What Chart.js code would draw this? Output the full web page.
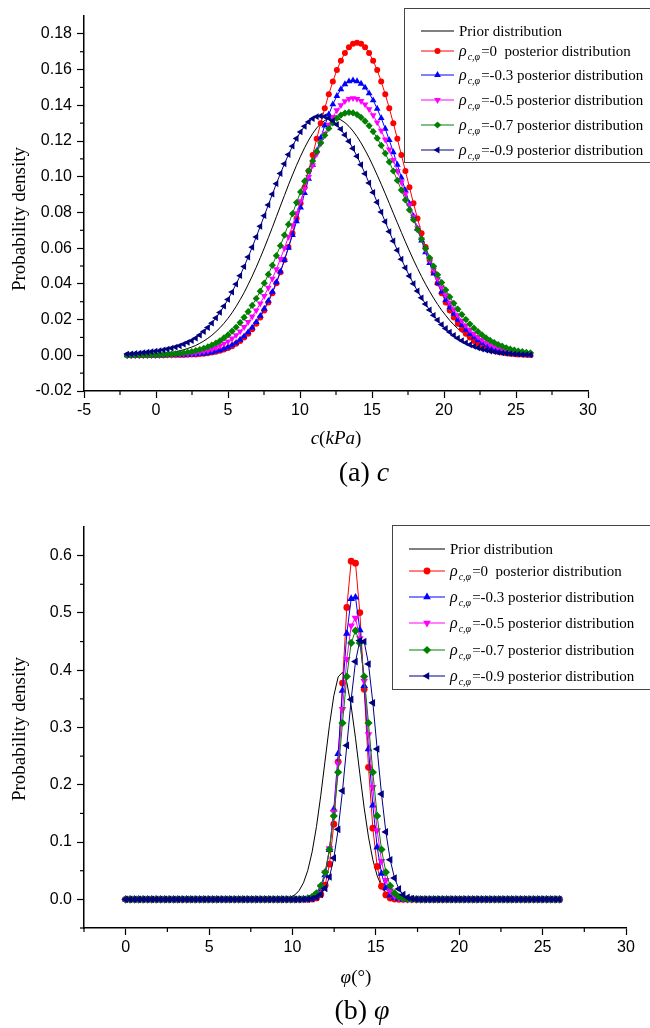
<!DOCTYPE html>
<html lang="en">
<head>
<meta charset="utf-8">
<title>Prior and posterior distributions of c and φ</title>
<script src="https://cdn.jsdelivr.net/npm/chart.js"></script>
<style>
  html, body { margin: 0; padding: 0; background: #fff; }
  .page { position: relative; width: 650px; height: 1028px; overflow: hidden; color: #000;
          font-family: "Liberation Serif", "Times New Roman", Times, serif; }
  .page canvas { position: absolute; left: 0; }
  #cChart { top: 0; }
  #phiChart { top: 500px; }
  .lbl { position: absolute; white-space: nowrap; line-height: 1; transform: translate(-50%, -50%); }
  .ytitle { font-size: 19px; transform: translate(-50%, -50%) rotate(-90deg); }
  .xtitle { font-size: 19px; }
  .caption { font-size: 28px; }
</style>
</head>
<body>
<div class="page">
  <canvas id="cChart" width="650" height="430"></canvas>
  <canvas id="phiChart" width="650" height="470"></canvas>

  <div class="lbl ytitle" style="left:18px; top:219px">Probability density</div>
  <div class="lbl xtitle" style="left:336px; top:437px"><i>c</i>(<i>kPa</i>)</div>
  <div class="lbl caption" style="left:364px; top:472px">(a) <i>c</i></div>

  <div class="lbl ytitle" style="left:18px; top:729px">Probability density</div>
  <div class="lbl xtitle" style="left:356px; top:976px"><i>φ</i>(°)</div>
  <div class="lbl caption" style="left:362px; top:1010px">(b) <i>φ</i></div>
</div>

<script>
// ---- (a) cohesion c (kPa) ----
const cValues = [
  -2, -1.72, -1.44, -1.16, -0.88, -0.6, -0.32, -0.04, 0.24, 0.52,
  0.8, 1.08, 1.36, 1.64, 1.92, 2.2, 2.48, 2.76, 3.04, 3.32,
  3.6, 3.88, 4.16, 4.44, 4.72, 5, 5.28, 5.56, 5.84, 6.12,
  6.4, 6.68, 6.96, 7.24, 7.52, 7.8, 8.08, 8.36, 8.64, 8.92,
  9.2, 9.48, 9.76, 10.04, 10.32, 10.6, 10.88, 11.16, 11.44, 11.72,
  12, 12.28, 12.56, 12.84, 13.12, 13.4, 13.68, 13.96, 14.24, 14.52,
  14.8, 15.08, 15.36, 15.64, 15.92, 16.2, 16.48, 16.76, 17.04, 17.32,
  17.6, 17.88, 18.16, 18.44, 18.72, 19, 19.28, 19.56, 19.84, 20.12,
  20.4, 20.68, 20.96, 21.24, 21.52, 21.8, 22.08, 22.36, 22.64, 22.92,
  23.2, 23.48, 23.76, 24.04, 24.32, 24.6, 24.88, 25.16, 25.44, 25.72,
  26
];
const cPrior = [
  0.0001, 0.0001, 0.0002, 0.0002, 0.0003, 0.0004, 0.0005, 0.0006, 0.0008, 0.0010,
  0.0013, 0.0016, 0.0020, 0.0025, 0.0031, 0.0038, 0.0046, 0.0055, 0.0067, 0.0080,
  0.0095, 0.0112, 0.0132, 0.0154, 0.0179, 0.0207, 0.0238, 0.0273, 0.0311, 0.0351,
  0.0396, 0.0443, 0.0493, 0.0546, 0.0601, 0.0658, 0.0716, 0.0776, 0.0836, 0.0895,
  0.0954, 0.1010, 0.1064, 0.1115, 0.1162, 0.1205, 0.1242, 0.1273, 0.1297, 0.1315,
  0.1326, 0.1330, 0.1327, 0.1318, 0.1303, 0.1282, 0.1256, 0.1225, 0.1189, 0.1149,
  0.1106, 0.1059, 0.1009, 0.0958, 0.0905, 0.0851, 0.0796, 0.0742, 0.0688, 0.0635,
  0.0584, 0.0534, 0.0487, 0.0441, 0.0398, 0.0358, 0.0320, 0.0285, 0.0252, 0.0223,
  0.0195, 0.0171, 0.0149, 0.0129, 0.0111, 0.0095, 0.0081, 0.0069, 0.0059, 0.0049,
  0.0041, 0.0035, 0.0029, 0.0024, 0.0020, 0.0016, 0.0013, 0.0011, 0.0009, 0.0007,
  0.0006
];
const cRho0 = [
  0, 0, 0, 0, 0, 0, 0, 0, 0, 0,
  0.0001, 0.0001, 0.0001, 0.0001, 0.0002, 0.0003, 0.0004, 0.0005, 0.0007, 0.0009,
  0.0012, 0.0015, 0.0020, 0.0025, 0.0032, 0.0041, 0.0051, 0.0064, 0.0080, 0.0099,
  0.0121, 0.0146, 0.0177, 0.0211, 0.0251, 0.0296, 0.0347, 0.0403, 0.0465, 0.0533,
  0.0606, 0.0684, 0.0766, 0.0852, 0.0941, 0.1032, 0.1122, 0.1212, 0.1300, 0.1384,
  0.1462, 0.1533, 0.1597, 0.1650, 0.1693, 0.1725, 0.1744, 0.1750, 0.1744, 0.1725,
  0.1693, 0.1650, 0.1597, 0.1533, 0.1462, 0.1384, 0.1300, 0.1212, 0.1122, 0.1032,
  0.0941, 0.0852, 0.0766, 0.0684, 0.0606, 0.0533, 0.0465, 0.0403, 0.0347, 0.0296,
  0.0251, 0.0211, 0.0177, 0.0146, 0.0121, 0.0099, 0.0080, 0.0064, 0.0051, 0.0041,
  0.0032, 0.0025, 0.0020, 0.0015, 0.0012, 0.0009, 0.0007, 0.0005, 0.0004, 0.0003,
  0.0002
];
const cRho3 = [
  0, 0, 0, 0, 0, 0, 0, 0, 0, 0,
  0.0001, 0.0001, 0.0001, 0.0002, 0.0002, 0.0003, 0.0004, 0.0006, 0.0008, 0.0010,
  0.0013, 0.0017, 0.0022, 0.0028, 0.0036, 0.0045, 0.0057, 0.0070, 0.0087, 0.0106,
  0.0129, 0.0155, 0.0186, 0.0221, 0.0261, 0.0305, 0.0355, 0.0409, 0.0469, 0.0533,
  0.0602, 0.0674, 0.0750, 0.0828, 0.0908, 0.0988, 0.1067, 0.1144, 0.1218, 0.1287,
  0.1349, 0.1405, 0.1452, 0.1490, 0.1518, 0.1534, 0.1540, 0.1535, 0.1521, 0.1499,
  0.1467, 0.1428, 0.1381, 0.1328, 0.1269, 0.1205, 0.1137, 0.1067, 0.0995, 0.0923,
  0.0850, 0.0779, 0.0709, 0.0642, 0.0577, 0.0516, 0.0458, 0.0405, 0.0355, 0.0310,
  0.0269, 0.0232, 0.0199, 0.0169, 0.0143, 0.0120, 0.0101, 0.0084, 0.0069, 0.0057,
  0.0046, 0.0038, 0.0030, 0.0024, 0.0019, 0.0015, 0.0012, 0.0009, 0.0007, 0.0006,
  0.0004
];
const cRho5 = [
  0, 0, 0, 0, 0, 0.0001, 0.0001, 0.0001, 0.0001, 0.0002,
  0.0002, 0.0003, 0.0004, 0.0005, 0.0007, 0.0009, 0.0011, 0.0014, 0.0018, 0.0023,
  0.0028, 0.0035, 0.0043, 0.0053, 0.0065, 0.0078, 0.0094, 0.0113, 0.0134, 0.0158,
  0.0186, 0.0217, 0.0251, 0.0290, 0.0332, 0.0378, 0.0429, 0.0482, 0.0540, 0.0600,
  0.0663, 0.0728, 0.0795, 0.0863, 0.0931, 0.0998, 0.1064, 0.1127, 0.1186, 0.1241,
  0.1291, 0.1335, 0.1372, 0.1401, 0.1423, 0.1436, 0.1440, 0.1436, 0.1424, 0.1405,
  0.1378, 0.1344, 0.1304, 0.1258, 0.1208, 0.1152, 0.1094, 0.1032, 0.0969, 0.0905,
  0.0840, 0.0776, 0.0712, 0.0650, 0.0591, 0.0534, 0.0479, 0.0428, 0.0380, 0.0336,
  0.0295, 0.0258, 0.0224, 0.0194, 0.0167, 0.0143, 0.0121, 0.0102, 0.0086, 0.0072,
  0.0060, 0.0050, 0.0041, 0.0033, 0.0027, 0.0022, 0.0018, 0.0014, 0.0011, 0.0009,
  0.0007
];
const cRho7 = [
  0, 0, 0.0001, 0.0001, 0.0001, 0.0001, 0.0002, 0.0002, 0.0003, 0.0004,
  0.0005, 0.0007, 0.0008, 0.0011, 0.0013, 0.0017, 0.0021, 0.0026, 0.0032, 0.0039,
  0.0047, 0.0057, 0.0068, 0.0081, 0.0097, 0.0114, 0.0135, 0.0157, 0.0183, 0.0212,
  0.0244, 0.0279, 0.0318, 0.0359, 0.0404, 0.0453, 0.0504, 0.0558, 0.0614, 0.0673,
  0.0733, 0.0793, 0.0855, 0.0915, 0.0975, 0.1033, 0.1088, 0.1141, 0.1189, 0.1232,
  0.1270, 0.1301, 0.1327, 0.1345, 0.1356, 0.1360, 0.1357, 0.1348, 0.1332, 0.1311,
  0.1285, 0.1253, 0.1216, 0.1175, 0.1131, 0.1083, 0.1032, 0.0979, 0.0925, 0.0870,
  0.0814, 0.0759, 0.0704, 0.0650, 0.0597, 0.0546, 0.0498, 0.0451, 0.0407, 0.0366,
  0.0327, 0.0291, 0.0258, 0.0228, 0.0200, 0.0175, 0.0152, 0.0132, 0.0114, 0.0097,
  0.0083, 0.0071, 0.0060, 0.0051, 0.0042, 0.0035, 0.0029, 0.0024, 0.0020, 0.0016,
  0.0013
];
const cRho9 = [
  0.0007, 0.0008, 0.0010, 0.0012, 0.0015, 0.0017, 0.0020, 0.0023, 0.0026, 0.0030,
  0.0035, 0.0040, 0.0046, 0.0053, 0.0062, 0.0072, 0.0082, 0.0096, 0.0113, 0.0133,
  0.0155, 0.0180, 0.0209, 0.0240, 0.0275, 0.0313, 0.0354, 0.0398, 0.0446, 0.0497,
  0.0550, 0.0605, 0.0663, 0.0722, 0.0782, 0.0842, 0.0902, 0.0961, 0.1018, 0.1072,
  0.1124, 0.1171, 0.1214, 0.1251, 0.1282, 0.1307, 0.1325, 0.1336, 0.1340, 0.1337,
  0.1328, 0.1313, 0.1292, 0.1266, 0.1234, 0.1198, 0.1158, 0.1114, 0.1067, 0.1017,
  0.0965, 0.0912, 0.0857, 0.0802, 0.0748, 0.0693, 0.0640, 0.0588, 0.0538, 0.0490,
  0.0444, 0.0401, 0.0360, 0.0322, 0.0287, 0.0254, 0.0224, 0.0197, 0.0172, 0.0150,
  0.0130, 0.0112, 0.0096, 0.0082, 0.0070, 0.0059, 0.0050, 0.0042, 0.0035, 0.0029,
  0.0024, 0.0020, 0.0016, 0.0013, 0.0011, 0.0009, 0.0007, 0.0006, 0.0004, 0.0004,
  0.0003
];
const cXTicks = [-5, 0, 5, 10, 15, 20, 25, 30];
const cYTicks = [-0.02, 0, 0.02, 0.04, 0.06, 0.08, 0.10, 0.12, 0.14, 0.16, 0.18];

// ---- (b) friction angle phi (deg) ----
const phiValues = [
  0, 0.26, 0.52, 0.78, 1.04, 1.3, 1.56, 1.82, 2.08, 2.34,
  2.6, 2.86, 3.12, 3.38, 3.64, 3.9, 4.16, 4.42, 4.68, 4.94,
  5.2, 5.46, 5.72, 5.98, 6.24, 6.5, 6.76, 7.02, 7.28, 7.54,
  7.8, 8.06, 8.32, 8.58, 8.84, 9.1, 9.36, 9.62, 9.88, 10.14,
  10.4, 10.66, 10.92, 11.18, 11.44, 11.7, 11.96, 12.22, 12.48, 12.74,
  13, 13.26, 13.52, 13.78, 14.04, 14.3, 14.56, 14.82, 15.08, 15.34,
  15.6, 15.86, 16.12, 16.38, 16.64, 16.9, 17.16, 17.42, 17.68, 17.94,
  18.2, 18.46, 18.72, 18.98, 19.24, 19.5, 19.76, 20.02, 20.28, 20.54,
  20.8, 21.06, 21.32, 21.58, 21.84, 22.1, 22.36, 22.62, 22.88, 23.14,
  23.4, 23.66, 23.92, 24.18, 24.44, 24.7, 24.96, 25.22, 25.48, 25.74,
  26
];
const phiPrior = [
  0, 0, 0, 0, 0, 0, 0, 0, 0, 0,
  0, 0, 0, 0, 0, 0, 0, 0, 0, 0,
  0, 0, 0, 0, 0, 0, 0, 0, 0, 0,
  0, 0, 0, 0, 0.0001, 0.0002, 0.0006, 0.0016, 0.0036, 0.0077,
  0.0154, 0.0288, 0.0506, 0.0829, 0.1270, 0.1818, 0.2432, 0.3041, 0.3555, 0.3883,
  0.3965, 0.3784, 0.3375, 0.2813, 0.2192, 0.1596, 0.1086, 0.0691, 0.0411, 0.0228,
  0.0119, 0.0058, 0.0026, 0.0011, 0.0004, 0.0002, 0.0001, 0, 0, 0,
  0, 0, 0, 0, 0, 0, 0, 0, 0, 0,
  0, 0, 0, 0, 0, 0, 0, 0, 0, 0,
  0, 0, 0, 0, 0, 0, 0, 0, 0, 0,
  0
];
const phiRho0 = [
  0, 0, 0, 0, 0, 0, 0, 0, 0, 0,
  0, 0, 0, 0, 0, 0, 0, 0, 0, 0,
  0, 0, 0, 0, 0, 0, 0, 0, 0, 0,
  0, 0, 0, 0, 0, 0, 0, 0, 0, 0,
  0, 0, 0.0001, 0.0006, 0.0025, 0.0085, 0.0247, 0.0614, 0.1311, 0.2401,
  0.3776, 0.5096, 0.5903, 0.5868, 0.5007, 0.3667, 0.2305, 0.1243, 0.0575, 0.0229,
  0.0078, 0.0023, 0.0006, 0.0001, 0, 0, 0, 0, 0, 0,
  0, 0, 0, 0, 0, 0, 0, 0, 0, 0,
  0, 0, 0, 0, 0, 0, 0, 0, 0, 0,
  0, 0, 0, 0, 0, 0, 0, 0, 0, 0,
  0
];
const phiRho3 = [
  0, 0, 0, 0, 0, 0, 0, 0, 0, 0,
  0, 0, 0, 0, 0, 0, 0, 0, 0, 0,
  0, 0, 0, 0, 0, 0, 0, 0, 0, 0,
  0, 0, 0, 0, 0, 0, 0, 0, 0, 0,
  0, 0.0002, 0.0007, 0.0024, 0.0071, 0.0184, 0.0424, 0.0866, 0.1574, 0.2541,
  0.3644, 0.4640, 0.5247, 0.5272, 0.4703, 0.3728, 0.2624, 0.1640, 0.0911, 0.0449,
  0.0196, 0.0077, 0.0026, 0.0008, 0.0002, 0.0001, 0, 0, 0, 0,
  0, 0, 0, 0, 0, 0, 0, 0, 0, 0,
  0, 0, 0, 0, 0, 0, 0, 0, 0, 0,
  0, 0, 0, 0, 0, 0, 0, 0, 0, 0,
  0
];
const phiRho5 = [
  0, 0, 0, 0, 0, 0, 0, 0, 0, 0,
  0, 0, 0, 0, 0, 0, 0, 0, 0, 0,
  0, 0, 0, 0, 0, 0, 0, 0, 0, 0,
  0, 0, 0, 0, 0, 0, 0, 0, 0, 0,
  0.0001, 0.0004, 0.0013, 0.0036, 0.0094, 0.0220, 0.0465, 0.0887, 0.1526, 0.2369,
  0.3318, 0.4191, 0.4777, 0.4912, 0.4555, 0.3811, 0.2877, 0.1959, 0.1203, 0.0667,
  0.0333, 0.0150, 0.0061, 0.0022, 0.0007, 0.0002, 0.0001, 0, 0, 0,
  0, 0, 0, 0, 0, 0, 0, 0, 0, 0,
  0, 0, 0, 0, 0, 0, 0, 0, 0, 0,
  0, 0, 0, 0, 0, 0, 0, 0, 0, 0,
  0
];
const phiRho7 = [
  0, 0, 0, 0, 0, 0, 0, 0, 0, 0,
  0, 0, 0, 0, 0, 0, 0, 0, 0, 0,
  0, 0, 0, 0, 0, 0, 0, 0, 0, 0,
  0, 0, 0, 0, 0, 0, 0, 0, 0, 0,
  0.0002, 0.0006, 0.0016, 0.0044, 0.0106, 0.0235, 0.0474, 0.0870, 0.1456, 0.2219,
  0.3078, 0.3890, 0.4476, 0.4690, 0.4476, 0.3890, 0.3078, 0.2219, 0.1456, 0.0870,
  0.0474, 0.0235, 0.0106, 0.0044, 0.0016, 0.0006, 0.0002, 0, 0, 0,
  0, 0, 0, 0, 0, 0, 0, 0, 0, 0,
  0, 0, 0, 0, 0, 0, 0, 0, 0, 0,
  0, 0, 0, 0, 0, 0, 0, 0, 0, 0,
  0
];
const phiRho9 = [
  0, 0, 0, 0, 0, 0, 0, 0, 0, 0,
  0, 0, 0, 0, 0, 0, 0, 0, 0, 0,
  0, 0, 0, 0, 0, 0, 0, 0, 0, 0,
  0, 0, 0, 0, 0, 0, 0, 0, 0, 0,
  0, 0.0002, 0.0005, 0.0014, 0.0036, 0.0088, 0.0193, 0.0390, 0.0722, 0.1222,
  0.1894, 0.2687, 0.3490, 0.4150, 0.4517, 0.4502, 0.4108, 0.3431, 0.2624, 0.1837,
  0.1177, 0.0691, 0.0371, 0.0182, 0.0082, 0.0034, 0.0013, 0.0004, 0.0001, 0,
  0, 0, 0, 0, 0, 0, 0, 0, 0, 0,
  0, 0, 0, 0, 0, 0, 0, 0, 0, 0,
  0, 0, 0, 0, 0, 0, 0, 0, 0, 0,
  0
];
const phiXTicks = [0, 5, 10, 15, 20, 25, 30];
const phiYTicks = [0, 0.1, 0.2, 0.3, 0.4, 0.5, 0.6];

// correlation coefficients shown in the legend
const rhoLabels = ['0', '-0.3', '-0.5', '-0.7', '-0.9'];

// prior, then rho = 0 ... -0.9
const seriesStyles = [
  { color: '#000000', pointStyle: null, rotation: 0, size: 0 },
  { color: '#ff0000', pointStyle: 'circle', rotation: 0, size: 1 },
  { color: '#0000ff', pointStyle: 'triangle', rotation: 0, size: 1.3 },
  { color: '#ff00ff', pointStyle: 'triangle', rotation: 180, size: 1.3 },
  { color: '#008000', pointStyle: 'rectRot', rotation: 0, size: 1.2 },
  { color: '#000080', pointStyle: 'triangle', rotation: 270, size: 1.3 }
];

const tickFont = { family: 'Arial, "Liberation Sans", Helvetica, sans-serif', size: 16 };
const serif = '"Liberation Serif", "Times New Roman", Times, serif';

function buildDatasets(xs, ys, radius) {
  return ys.map((vals, i) => ({
    label: i === 0 ? 'Prior distribution' : 'ρc,φ=' + rhoLabels[i - 1] + ' posterior distribution',
    data: xs.map((x, j) => ({ x: x, y: vals[j] })),
    borderColor: seriesStyles[i].color,
    backgroundColor: seriesStyles[i].color,
    pointBackgroundColor: seriesStyles[i].color,
    pointBorderColor: seriesStyles[i].color,
    pointBorderWidth: 0,
    borderWidth: 1,
    pointStyle: seriesStyles[i].pointStyle || 'circle',
    pointRotation: seriesStyles[i].rotation,
    pointRadius: radius * seriesStyles[i].size,
    tension: 0,
    order: ys.length - 1 - i   // navy ends up on top, prior at the back
  }));
}

// Origin-style half ticks between the labelled ones
const minorTicks = {
  id: 'minorTicks',
  afterDraw(chart) {
    const ctx = chart.ctx, area = chart.chartArea;
    ctx.save();
    ctx.strokeStyle = '#000';
    ctx.lineWidth = 1.2;
    ['x', 'y'].forEach(id => {
      const s = chart.scales[id];
      const vals = s.ticks.map(t => t.value);
      const step = vals[1] - vals[0];
      const minors = [];
      if (vals[0] - step / 2 >= s.min - 1e-9) minors.push(vals[0] - step / 2);
      for (let i = 0; i < vals.length - 1; i++) minors.push((vals[i] + vals[i + 1]) / 2);
      if (vals[vals.length - 1] + step / 2 < s.max - 1e-9) minors.push(vals[vals.length - 1] + step / 2);
      minors.forEach(v => {
        const p = s.getPixelForValue(v);
        ctx.beginPath();
        if (id === 'x') { ctx.moveTo(p, area.bottom); ctx.lineTo(p, area.bottom + 4); }
        else { ctx.moveTo(area.left, p); ctx.lineTo(area.left - 4, p); }
        ctx.stroke();
      });
    });
    ctx.restore();
  }
};

// boxed legend with the rho_{c,phi} subscript
const legendBox = {
  id: 'legendBox',
  afterDraw(chart, args, o) {
    const ctx = chart.ctx;
    ctx.save();
    ctx.fillStyle = '#fff';
    ctx.fillRect(o.x, o.y, o.w, o.h);
    ctx.strokeStyle = '#444';
    ctx.lineWidth = 1;
    ctx.strokeRect(o.x + 0.5, o.y + 0.5, o.w, o.h);
    chart.data.datasets.forEach((ds, i) => {
      const y = o.y + o.rows[i];
      ctx.strokeStyle = ds.borderColor;
      ctx.lineWidth = 1;
      ctx.beginPath();
      ctx.moveTo(o.line[0], y);
      ctx.lineTo(o.line[1], y);
      ctx.stroke();
      if (ds.pointRadius > 0) {
        ctx.fillStyle = ds.pointBackgroundColor;
        Chart.helpers.drawPoint(ctx, {
          pointStyle: ds.pointStyle, rotation: ds.pointRotation,
          radius: ds.pointRadius, borderWidth: 0
        }, (o.line[0] + o.line[1]) / 2, y);
      }
      ctx.fillStyle = '#000';
      ctx.textBaseline = 'alphabetic';
      ctx.textAlign = 'left';
      let tx = o.textX;
      const by = y + 5;
      if (i === 0) {
        ctx.font = '15px ' + serif;
        ctx.fillText(ds.label, tx, by);
      } else {
        ctx.font = 'italic 16px ' + serif;
        ctx.fillText('ρ', tx, by);
        tx += ctx.measureText('ρ').width + 1;
        ctx.font = 'italic 10px ' + serif;
        ctx.fillText('c,φ', tx, by + 4);
        tx += ctx.measureText('c,φ').width + 1;
        const rho = rhoLabels[i - 1];
        ctx.font = '15px ' + serif;
        ctx.fillText('=' + rho + (rho === '0' ? '  ' : ' ') + 'posterior distribution', tx, by);
      }
    });
    ctx.restore();
  }
};

function makeChart(canvasId, xs, ys, cfg) {
  return new Chart(document.getElementById(canvasId), {
    type: 'line',
    data: { datasets: buildDatasets(xs, ys, cfg.radius) },
    plugins: [minorTicks, legendBox],
    options: {
      responsive: false,
      animation: false,
      devicePixelRatio: 1,
      events: [],
      layout: { padding: cfg.padding },
      plugins: {
        legend: { display: false },
        tooltip: { enabled: false },
        legendBox: cfg.legend
      },
      scales: {
        x: {
          type: 'linear', min: cfg.xMin, max: cfg.xMax,
          afterBuildTicks: s => { s.ticks = cfg.xTicks.map(v => ({ value: v })); },
          ticks: { padding: 3, color: '#000', font: tickFont, maxRotation: 0, autoSkip: false,
                   callback: v => String(v) },
          grid: { drawOnChartArea: false, drawTicks: true, tickLength: 7, tickWidth: 1.2, tickColor: '#000' },
          border: { display: true, color: '#000', width: 1.5 },
          afterFit: s => { s.height = 30; }
        },
        y: {
          type: 'linear', min: cfg.yMin, max: cfg.yMax,
          afterBuildTicks: s => { s.ticks = cfg.yTicks.map(v => ({ value: v })); },
          ticks: { padding: 5, color: '#000', font: tickFont, autoSkip: false,
                   callback: v => Number(v).toFixed(cfg.yDigits) },
          grid: { drawOnChartArea: false, drawTicks: true, tickLength: 7, tickWidth: 1.2, tickColor: '#000' },
          border: { display: true, color: '#000', width: 1.5 },
          afterFit: s => { s.width = 84; }
        }
      }
    }
  });
}

makeChart('cChart', cValues, [cPrior, cRho0, cRho3, cRho5, cRho7, cRho9], {
  radius: 3.0,
  padding: { left: 0, top: 16, right: 62, bottom: 9 },
  xMin: -5, xMax: 30, xTicks: cXTicks,
  yMin: -0.02, yMax: 0.19, yTicks: cYTicks, yDigits: 2,
  legend: { x: 404, y: 8, w: 252, h: 154, rows: [23, 43, 67, 92, 117, 142], line: [421, 454], textX: 459 }
});

makeChart('phiChart', phiValues, [phiPrior, phiRho0, phiRho3, phiRho5, phiRho7, phiRho9], {
  radius: 3.4,
  padding: { left: 0, top: 27, right: 24, bottom: 12 },
  xMin: -2.5, xMax: 30, xTicks: phiXTicks,
  yMin: -0.05, yMax: 0.65, yTicks: phiYTicks, yDigits: 1,
  legend: { x: 392, y: 25, w: 264, h: 164, rows: [24, 46, 72, 98, 125, 151], line: [409, 445], textX: 450 }
});
</script>
</body>
</html>
